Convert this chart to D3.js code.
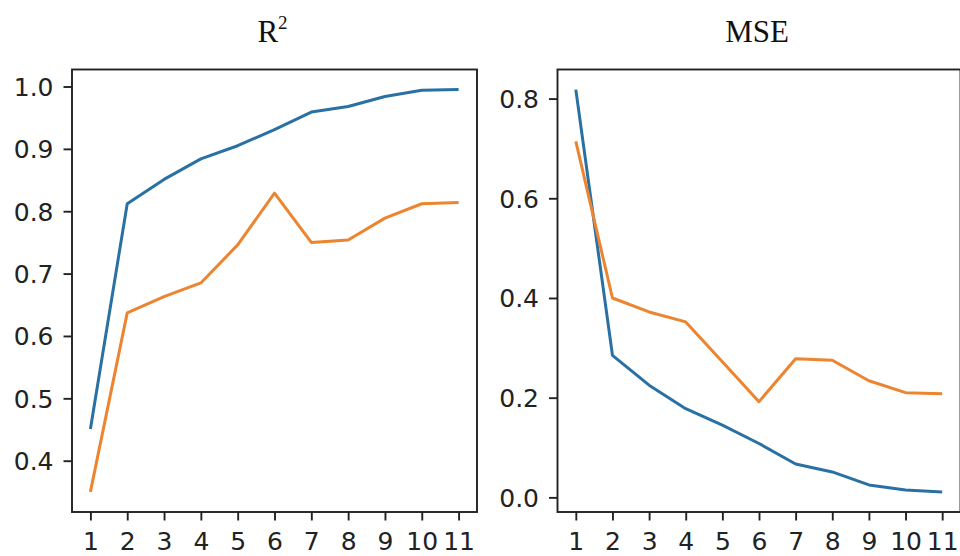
<!DOCTYPE html>
<html>
<head>
<meta charset="utf-8">
<script src="https://cdn.jsdelivr.net/npm/d3@7"></script>
<style>
  body { margin: 0; background: #fff; }
  svg { display: block; }
  .tick text { font-family: "DejaVu Sans", sans-serif; font-size: 25px; fill: #222; }
  .tick line { stroke: #222; stroke-width: 1.9px; }
  .domain { display: none; }
  .title { font-family: "Liberation Serif", "Times New Roman", serif; font-size: 31px; fill: #111; }
</style>
</head>
<body>
<svg id="chart" width="960" height="556"></svg>
<script>
// data
var steps = [1, 2, 3, 4, 5, 6, 7, 8, 9, 10, 11]
var r2Train = [0.451, 0.812, 0.851, 0.884, 0.905, 0.931, 0.959, 0.968, 0.984, 0.994, 0.995]
var r2Test = [0.350, 0.637, 0.663, 0.685, 0.746, 0.829, 0.750, 0.754, 0.789, 0.812, 0.814]
var mseTrain = [0.818, 0.285, 0.225, 0.178, 0.145, 0.108, 0.067, 0.051, 0.025, 0.015, 0.011]
var mseTest = [0.714, 0.400, 0.372, 0.352, 0.272, 0.192, 0.278, 0.275, 0.234, 0.210, 0.208]
var r2Ticks = [0.4, 0.5, 0.6, 0.7, 0.8, 0.9, 1.0]
var mseTicks = [0.0, 0.2, 0.4, 0.6, 0.8]

var blue = '#2a71a3',
    orange = '#ec8430'

var svg = d3.select('#chart')

function panel(opts) {
    var left = opts.left, right = opts.right,
        top = 69.5, bottom = 512

    // matplotlib-style 5% margins
    var all = opts.series.flat()
    var lo = d3.min(all), hi = d3.max(all), pad = (hi - lo) * 0.05

    var x = d3.scaleLinear()
        .domain([0.5, 11.5])
        .range([left, right])
    var y = d3.scaleLinear()
        .domain([lo - pad, hi + pad])
        .range([bottom, top])

    var g = svg.append('g')

    var line = d3.line()
        .x(function(d, i) { return x(steps[i]) })
        .y(function(d) { return y(d) })

    opts.series.forEach(function(s, k) {
        g.append('path')
            .datum(s)
            .attr('d', line)
            .attr('fill', 'none')
            .attr('stroke', opts.colors[k])
            .attr('stroke-width', 3)
            .attr('stroke-linejoin', 'round')
    })

    g.append('rect')
        .attr('x', left).attr('y', top)
        .attr('width', right - left).attr('height', bottom - top)
        .attr('fill', 'none')
        .attr('stroke', '#222')
        .attr('stroke-width', 1.9)

    g.append('g')
        .attr('transform', `translate(0,${bottom})`)
        .call(d3.axisBottom(x).tickValues(steps).tickSize(8.5).tickPadding(11.5).tickFormat(d3.format('d')))

    g.append('g')
        .attr('transform', `translate(${left},0)`)
        .call(d3.axisLeft(y).tickValues(opts.ticks).tickSize(8.5).tickPadding(10).tickFormat(d3.format('.1f')))
        .selectAll('.tick text').attr('dy', '0.36em')

    var title = svg.append('text')
        .attr('class', 'title')
        .attr('x', (left + right) / 2 - 2)
        .attr('y', 42)
        .attr('text-anchor', 'middle')
    title.append('tspan').text(opts.title)
    if (opts.sup) {
        title.append('tspan')
            .attr('dy', -13)
            .attr('font-size', 19)
            .text(opts.sup)
    }
}

panel({ left: 72, right: 477, series: [r2Train, r2Test], colors: [blue, orange], ticks: r2Ticks, title: 'R', sup: '2' })
panel({ left: 557.5, right: 960.5, series: [mseTrain, mseTest], colors: [blue, orange], ticks: mseTicks, title: 'MSE' })
</script>
</body>
</html>
